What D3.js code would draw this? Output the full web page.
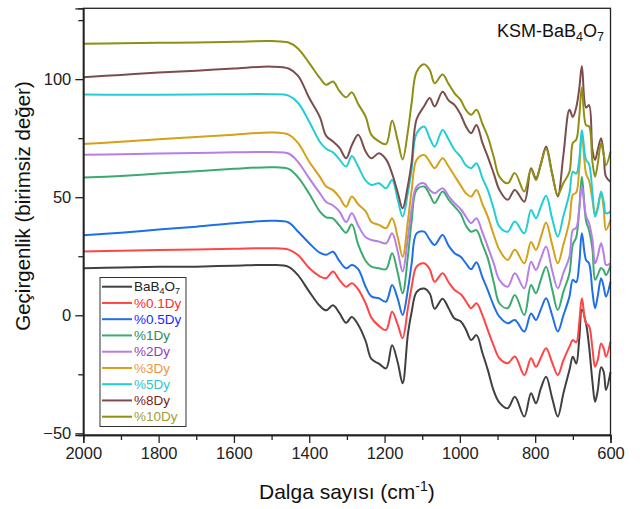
<!DOCTYPE html>
<html><head><meta charset="utf-8">
<script src="https://cdn.jsdelivr.net/npm/d3@7"></script>
<style>body{margin:0;background:#fff}svg{display:block}text{font-family:"Liberation Sans",Arial,sans-serif}</style>
</head><body><svg id="c" width="640" height="509"></svg>
<script>
const wavenumbers = [2000,1900,1800,1700,1600,1500,1455,1430,1400,1372,1355,1337,1320,1302,1287,1270,1250,1235,1215,1196,1180,1165,1152,1138,1128,1115,1095,1080,1067,1046,1030,1014,998,984,970,956,940,926,910,895,873,854,829,811,798,785,771,755,740,725,709,700,691,683,676,665,657,648,641,634,625,618,612,600];
const sBaB4O7 = [19.9,20.2,20.5,20.6,21,21.3, 20.5,17,10,4,2.1,4.2,1,-3.2,-0.7,-4, -11,-18.5,-20.5,-22.5,-12.7,-20,-28.8,-8,1.5,9.8, 11.3,9.2,2.8,7,3,-1.4,-2.5,-6,-10.5,-8.4, -16,-23,-32,-37,-39.4,-34.5,-42.9,-33,-37.3,-31, -26,-35,-42.9,-33,-23.2,-17.6,-20.4,-10,2.5,-3.5, -13,-28,-36.6,-32,-22,-24,-31.6,-24];
const s01Dy = [27,27.3,27.6,27.9,28.2,28.4, 27.8,25.5,20,16.5,15.7,18.5,15,12.1,13.6,11, 5,-1,-4.5,-6.2,1.5,-4,-9.7,3,12,20.6, 22,19.5,14.2,17.8,14,10.7,9,6,3,5.1, 0,-6.2,-13,-18.2,-20.3,-17.5,-25.3,-18.2,-21.8,-18, -14,-20,-25.3,-19,-13.3,-10.5,-11.5,-3,7.2,-3.4, -4.5,-14,-21.8,-19,-11.9,-14,-17.5,-11.2];
const s05Dy = [33.9,35,36.3,37.5,39,40, 39.3,35.5,30.5,26.5,25.6,26.9,23,19.9,21.3,19.5, 12,8,7.2,5.8,12.8,7,0.1,11,22,34.7, 35.4,32,29.8,34,29.5,26.3,24.8,22,19.5,22.5, 16,10.7,4,-0.6,-3.4,-2,-6.9,0.8,-2,2.5, 7.2,0,-6.9,0,7.9,15,14,22,34.7,23.4, 22,10,3,8,15.7,12,7.9,14.2];
const s1Dy = [58.3,59,60,61,62,62.7, 62,58.5,51.5,44,41.5,41,38,35,38.5,30, 23,20.6,19.9,19.5,26.3,18,9.3,25,40,53.1, 54.5,51,47.5,52.4,49,46,43,38,35.4,36.1, 30,24.2,14,5.1,3,8.6,0.1,12.8,9.3,15, 20.6,11,2.2,10,17.8,30,33,45,58.7,40, 36,28,15,17,20,19,17,21];
const s2Dy = [68,68.2,68.5,68.7,69,69.1, 68.5,65,58,51.7,48,46.5,44,39.5,43.2,38, 33,31.9,31.2,30.5,34.7,27,18.5,33,45,54.5, 55.9,53,51.7,53.8,50.5,47.5,45,41.8,39,41.1, 35,29.1,22,15,12.1,17.8,11.4,22.7,19.2,24, 29.1,19,11.4,18,24.8,36.1,37,45,54.5,42, 39,32,22,25,30.5,26,21.3,22];
const s3Dy = [72.5,73.5,74.5,75.5,76.5,77.4, 76.5,73,65,58.7,54.5,53,50,46,50.3,47, 44,39.5,38.3,36.9,41.1,33,24.8,40,53,65.8, 67.9,65,62.3,66.5,63,59,55,51.7,50.3,53.1, 47,41.8,34,27.7,23.4,27.7,22,31,27.7,33, 39.3,30,22,30,40,51,52,62,77,60, 57,49,42.5,46,51.7,45,36.1,40.4];
const s5Dy = [93.5,93.4,93.4,93.5,93.6,93.6, 93,90,82,73.5,70.5,69,66,63,67.5,63, 57,55.2,55.9,53.8,57.3,49,41.8,52,62,77, 79.9,75,71.4,78.5,74.5,70,67.2,63.5,62.3,64.4, 58,53.1,45,37.5,35.4,39.7,34.7,44.6,41.1,46, 50.6,41,33.3,42,51.7,60.8,60,66,78.5,65.8, 64,52,41.8,45,52.4,48,43.2,43.9];
const s8Dy = [100.8,101.8,102.8,103.6,104.5,105.3, 104.5,101.5,92,84,76,73.6,71,66.5,72,76.4, 69.3,66.5,68.6,66,60,52,45.3,55,65,83, 88.5,92,88.4,94.7,91,89,85,80,77.1,80.6, 73,67.2,60,53.1,48.9,53.1,48.1,62.3,58,64, 71.5,60,50.3,68,87,84,88,96,105.6,88, 89,70,65.8,70,75,68,58.7,56.6];
const s10Dy = [115,115.2,115.4,115.5,115.8,116.1, 115.5,113,106.8,100.5,97.6,99,95,92.3,94.4,89.5, 84,76.4,73.6,72.5,82.5,74,66,78,90,103, 106.3,103.9,98.3,102,98,94,91.2,87,84.9,87, 81,75.7,67,58.7,55.9,60.2,52.4,61.8,57.3,64, 70.5,60,51,56,60.8,73,74.3,84,96.5,80.5, 80,65,58.7,64,72.9,68,63.5,69.3];

const seriesNames = ["BaB4O7","%0.1Dy","%0.5Dy","%1Dy","%2Dy","%3Dy","%5Dy","%8Dy","%10Dy"];
const seriesValues = [sBaB4O7,s01Dy,s05Dy,s1Dy,s2Dy,s3Dy,s5Dy,s8Dy,s10Dy];
const xTickValues = [2000,1800,1600,1400,1200,1000,800,600];
const xMinorTicks = [1900,1700,1500,1300,1100,900,700];
const yTickValues = [-50,0,50,100];
const yMinorTicks = [-25,25,75,125];
const xDomain = [2000,600];
const yDomain = [-50.7,130];

const lineColors = ["#404040","#ff4646","#1f6fe8","#3caa6e","#b77fe6","#d6a11a","#22cdd6","#7c4d4d","#8f8f14"];
const textColors = ["#222222","#ff2a2a","#1a2aff","#2e8b57","#9a3ab8","#f2963c","#30c4c8","#7b2222","#9e9e38"];

const svg = d3.select("#c");
const L = 83.3, R = 610.5, T = 8.3, B = 435;
const x = d3.scaleLinear().domain(xDomain).range([L, R]);
const y = d3.scaleLinear().domain(yDomain).range([B, T]);

const line = d3.line().x(d => x(d[0])).y(d => y(d[1])).curve(d3.curveCatmullRom.alpha(0.5));
const plot = svg.append("g");
seriesValues.forEach((vals, i) => {
  const pts = wavenumbers.map((w, k) => [w, vals[k]]);
  plot.append("path").datum(pts).attr("d", line)
    .attr("fill", "none").attr("stroke", lineColors[i]).attr("stroke-width", 2)
    .attr("stroke-linejoin", "round");
});

// frame
svg.append("rect").attr("x", L).attr("y", T).attr("width", R - L).attr("height", B - T)
  .attr("fill", "none").attr("stroke", "#222").attr("stroke-width", 1.3);

// axes
const xAxis = d3.axisBottom(x).tickValues(xTickValues).tickSize(8).tickPadding(4).tickFormat(d3.format("d"));
svg.append("g").attr("transform", `translate(0,${B})`).call(xAxis);
const xMinor = d3.axisBottom(x).tickValues(xMinorTicks).tickSize(5).tickFormat("");
svg.append("g").attr("transform", `translate(0,${B})`).call(xMinor);
const yAxis = d3.axisLeft(y).tickValues(yTickValues).tickSize(8).tickPadding(4);
svg.append("g").attr("transform", `translate(${L},0)`).call(yAxis);
const yMinor = d3.axisLeft(y).tickValues(yMinorTicks).tickSize(5).tickFormat("");
svg.append("g").attr("transform", `translate(${L},0)`).call(yMinor);
svg.selectAll(".domain").attr("stroke", "#222").attr("stroke-width", 1.3);
svg.selectAll(".tick line").attr("stroke", "#222").attr("stroke-width", 1.3);
svg.selectAll(".tick text").attr("font-size", 16.5).attr("fill", "#222")
  .attr("font-family", "'Liberation Sans', Arial, sans-serif");

// axis titles
const xt = svg.append("text").attr("x", (L + R) / 2).attr("y", 499).attr("text-anchor", "middle")
  .attr("font-size", 21).attr("fill", "#111");
xt.append("tspan").text("Dalga sayısı (cm");
xt.append("tspan").attr("dy", -8).attr("font-size", 14).text("-1");
xt.append("tspan").attr("dy", 8).text(")");

svg.append("text").attr("transform", "translate(30,206) rotate(-90)").attr("text-anchor", "middle")
  .attr("font-size", 20.5).attr("fill", "#111").text("Geçirgenlik (birimsiz değer)");

// title
const tt = svg.append("text").attr("x", 497).attr("y", 37).attr("font-size", 18).attr("fill", "#111");
tt.append("tspan").text("KSM-BaB");
tt.append("tspan").attr("dy", 4).attr("font-size", 12.5).text("4");
tt.append("tspan").attr("dy", -4).text("O");
tt.append("tspan").attr("dy", 4).attr("font-size", 12.5).text("7");

// legend
const lg = svg.append("g");
lg.append("rect").attr("x", 100).attr("y", 277.5).attr("width", 86).attr("height", 149)
  .attr("fill", "#fff").attr("stroke", "#333").attr("stroke-width", 1);
seriesNames.forEach((n, i) => {
  const cy = 286.7 + i * 16.25;
  lg.append("line").attr("x1", 102).attr("x2", 132).attr("y1", cy).attr("y2", cy)
    .attr("stroke", lineColors[i]).attr("stroke-width", 2);
  const t = lg.append("text").attr("x", 134).attr("y", cy + 4.7).attr("font-size", 13.5).attr("fill", textColors[i]);
  if (i === 0) {
    t.append("tspan").text("BaB");
    t.append("tspan").attr("dy", 3).attr("font-size", 9).text("4");
    t.append("tspan").attr("dy", -3).text("O");
    t.append("tspan").attr("dy", 3).attr("font-size", 9).text("7");
  } else {
    t.text(n);
  }
});
</script>
</body></html>
